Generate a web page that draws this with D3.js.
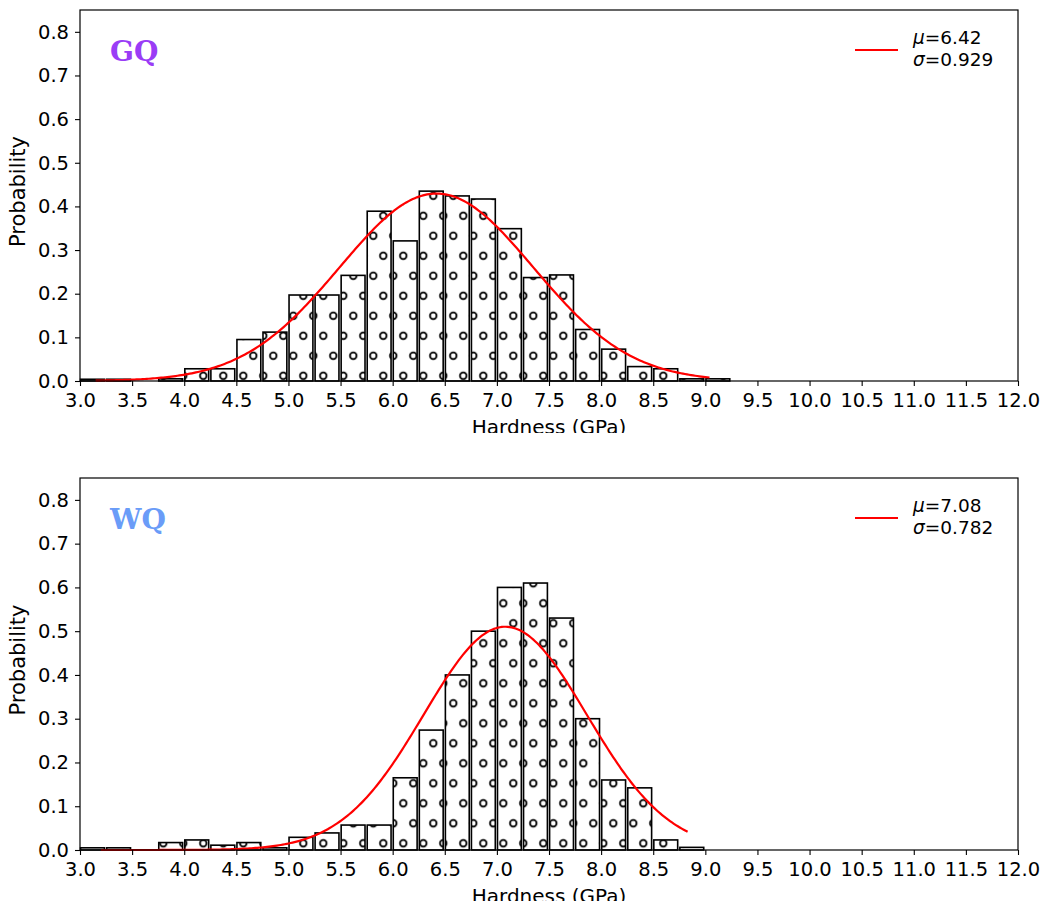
<!DOCTYPE html>
<html>
<head>
<meta charset="utf-8">
<script src="https://cdn.jsdelivr.net/npm/d3@7"></script>
<style>
  html, body { margin: 0; padding: 0; background: #fff; }
  svg { display: block; }
  text { font-family: "DejaVu Sans", sans-serif; }
</style>
</head>
<body>
<svg id="chart" width="1044" height="907"></svg>
<script>
// ---------------- data ----------------
const binStarts = [3.0,3.25,3.5,3.75,4.0,4.25,4.5,4.75,5.0,5.25,5.5,5.75,6.0,6.25,6.5,6.75,7.0,7.25,7.5,7.75,8.0,8.25,8.5,8.75,9.0];
const binWidth = 0.25;
const gqProb = [0.004,0.004,0,0.005,0.028,0.028,0.095,0.112,0.197,0.197,0.242,0.389,0.321,0.435,0.424,0.417,0.349,0.237,0.243,0.118,0.073,0.033,0.028,0.005,0.005];
const wqProb = [0.005,0.005,0,0.017,0.023,0.011,0.017,0.005,0.029,0.039,0.057,0.057,0.165,0.274,0.40,0.50,0.60,0.61,0.53,0.30,0.16,0.142,0.023,0.006,0];
const gqFit = { mu: 6.42, sigma: 0.929, xmin: 3.15, xmax: 9.04 };
const wqFit = { mu: 7.08, sigma: 0.782, xmin: 3.2, xmax: 8.83 };
const xTicks = [3.0,3.5,4.0,4.5,5.0,5.5,6.0,6.5,7.0,7.5,8.0,8.5,9.0,9.5,10.0,10.5,11.0,11.5,12.0];
const yTicks = [0.0,0.1,0.2,0.3,0.4,0.5,0.6,0.7,0.8];
const panelNames = ["GQ", "WQ"];
const panelColors = ["#9a3cf6", "#6a9cf8"];

// ---------------- drawing ----------------
const svg = d3.select("#chart");
const defs = svg.append("defs");

const panels = [
  { name: panelNames[0], color: panelColors[0], probs: gqProb, fit: gqFit,
    top: 10, bottom: 381, patY: 5.8, clipBottom: 433 },
  { name: panelNames[1], color: panelColors[1], probs: wqProb, fit: wqFit,
    top: 478, bottom: 850, patY: 33.3, clipBottom: 901 }
];
const left = 80, right = 1018;

panels.forEach((p, pi) => {
  const x = d3.scaleLinear().domain([3.0, 12.0]).range([left, right]);
  const y = d3.scaleLinear().domain([0, 0.85]).range([p.bottom, p.top]);

  // hatch pattern of circles
  const pid = "hatch" + pi;
  const pat = defs.append("pattern")
    .attr("id", pid).attr("patternUnits", "userSpaceOnUse")
    .attr("x", 18.3).attr("y", p.patY).attr("width", 20).attr("height", 40);
  pat.append("rect").attr("width", 20).attr("height", 40).attr("fill", "#fff");
  [[5, 10], [15, 30]].forEach(c => {
    pat.append("circle").attr("cx", c[0]).attr("cy", c[1]).attr("r", 3.3)
      .attr("fill", "none").attr("stroke", "#000").attr("stroke-width", 1.8);
  });

  const clipId = "clip" + pi;
  defs.append("clipPath").attr("id", clipId).append("rect")
    .attr("x", 0).attr("y", p.top - 10).attr("width", 1044).attr("height", p.clipBottom - (p.top - 10));

  const g = svg.append("g").attr("clip-path", `url(#${clipId})`);

  // bars
  const bins = binStarts.map((s, i) => ({ x0: s, x1: s + binWidth, v: p.probs[i] })).filter(d => d.v > 0);
  g.append("g").selectAll("rect").data(bins).join("rect")
    .attr("x", d => x(d.x0) + 0.6)
    .attr("width", d => x(d.x1) - x(d.x0) - 2.2)
    .attr("y", d => y(d.v))
    .attr("height", d => y(0) - y(d.v))
    .attr("fill", `url(#${pid})`)
    .attr("stroke", "#000").attr("stroke-width", 1.6);

  // fitted normal curve
  const n = 300;
  const pts = d3.range(n + 1).map(i => {
    const xv = p.fit.xmin + (p.fit.xmax - p.fit.xmin) * i / n;
    const z = (xv - p.fit.mu) / p.fit.sigma;
    return [xv, Math.exp(-0.5 * z * z) / (p.fit.sigma * Math.sqrt(2 * Math.PI))];
  });
  g.append("path").datum(pts)
    .attr("d", d3.line().x(d => x(d[0])).y(d => y(d[1])))
    .attr("fill", "none").attr("stroke", "#ff0000").attr("stroke-width", 2.2);

  // axes
  const xAxis = d3.axisBottom(x).tickValues(xTicks).tickFormat(d3.format(".1f")).tickSizeOuter(0).tickSize(5).tickPadding(3);
  const yAxis = d3.axisLeft(y).tickValues(yTicks).tickFormat(d3.format(".1f")).tickSizeOuter(0).tickSize(5).tickPadding(6);
  const gx = g.append("g").attr("transform", `translate(0,${p.bottom})`).call(xAxis);
  const gy = g.append("g").attr("transform", `translate(${left},0)`).call(yAxis);
  [gx, gy].forEach(a => {
    a.select(".domain").remove();
    a.selectAll("line").attr("stroke", "#000").attr("stroke-width", 1.1);
    a.selectAll("text").attr("fill", "#000").style("font-size", "19.5px").style("font-family", "DejaVu Sans");
  });
  gx.selectAll("text").attr("y", 26).attr("dy", 0);

  // frame
  g.append("rect").attr("x", left).attr("y", p.top).attr("width", right - left).attr("height", p.bottom - p.top)
    .attr("fill", "none").attr("stroke", "#000").attr("stroke-width", 1.2);

  // axis labels
  g.append("text").attr("x", (left + right) / 2).attr("y", p.bottom + 53)
    .attr("text-anchor", "middle").style("font-size", "20px").text("Hardness (GPa)");
  g.append("text").attr("transform", `translate(25,${(p.top + p.bottom) / 2 - 4}) rotate(-90)`)
    .attr("text-anchor", "middle").style("font-size", "21px").text("Probability");

  // panel name
  g.append("text").attr("x", 110).attr("y", p.top + 51)
    .style("font-family", "DejaVu Serif").style("font-weight", "bold").style("font-size", "28px")
    .attr("fill", p.color).text(p.name);

  // legend
  const ly = p.top + 40;
  g.append("line").attr("x1", 855).attr("x2", 898).attr("y1", ly).attr("y2", ly)
    .attr("stroke", "#ff0000").attr("stroke-width", 2.2);
  const t1 = g.append("text").attr("x", 913).attr("y", ly - 6).style("font-size", "18.5px");
  t1.append("tspan").style("font-style", "italic").text("μ");
  t1.append("tspan").text("=" + p.fit.mu.toFixed(2));
  const t2 = g.append("text").attr("x", 913).attr("y", ly + 16).style("font-size", "18.5px");
  t2.append("tspan").style("font-style", "italic").text("σ");
  t2.append("tspan").text("=" + p.fit.sigma.toFixed(3));
});
</script>
</body>
</html>
